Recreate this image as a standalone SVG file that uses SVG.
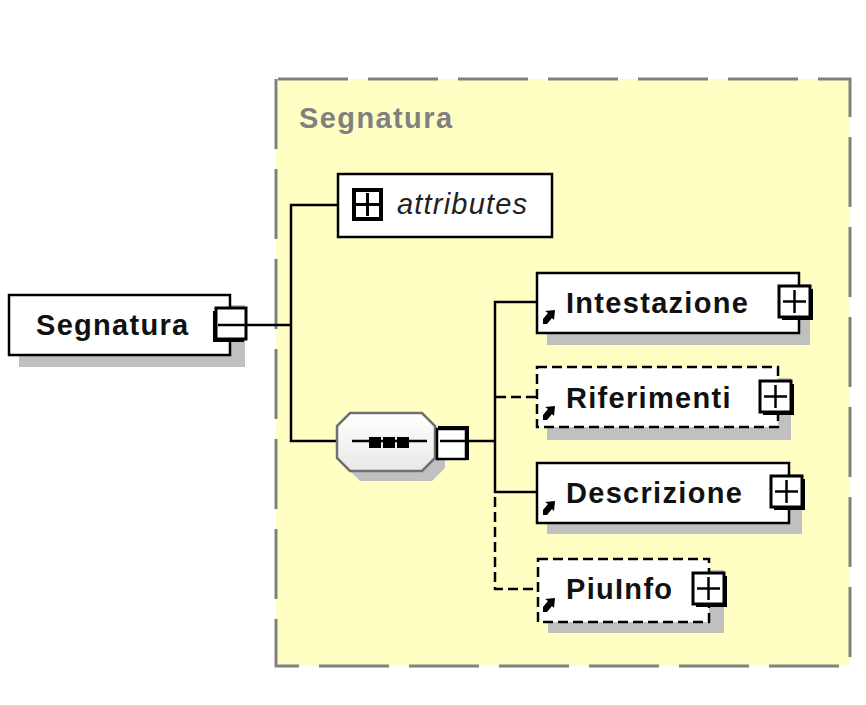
<svg xmlns="http://www.w3.org/2000/svg" width="866" height="705" viewBox="0 0 866 705">
<defs>
<style>
.box{fill:#fff;stroke:#000;stroke-width:2.5}
.dbox{fill:#fff;stroke:#000;stroke-width:2.5;stroke-dasharray:10 5}
.shadow{fill:#c0c0c0}
.lbl{font-family:"Liberation Sans",Arial,sans-serif;font-weight:bold;font-size:29px;fill:#111;letter-spacing:1.3px}
.ln{stroke:#000;stroke-width:2.5;fill:none}
.dln{stroke:#000;stroke-width:2.5;fill:none;stroke-dasharray:10 5}
</style>
<linearGradient id="seqg" x1="0" y1="0" x2="0" y2="1">
<stop offset="0" stop-color="#ffffff"/>
<stop offset="1" stop-color="#e8e8e8"/>
</linearGradient>
<g id="plus">
<rect x="3" y="3" width="31" height="31" fill="#000"/>
<rect x="0" y="0" width="31" height="31" fill="#fff" stroke="#000" stroke-width="3"/>
<line x1="15.5" y1="4" x2="15.5" y2="27" stroke="#000" stroke-width="2.5"/>
<line x1="4" y1="15.5" x2="27" y2="15.5" stroke="#000" stroke-width="2.5"/>
</g>
<g id="ref">
<polygon points="0,14 4,14 9,8 11,10 12,0 2,1 5,3 0,9" fill="#000"/>
</g>
</defs>

<g id="container">
<rect x="276" y="79" width="574" height="587" fill="#ffffc4" stroke="#808080" stroke-width="3" stroke-dasharray="70 20" stroke-dashoffset="-2"/>
<text x="299" y="128" font-family="'Liberation Sans',Arial,sans-serif" font-weight="bold" font-size="29" fill="#808080" letter-spacing="1.4">Segnatura</text>
</g>

<g id="connectors">
<line class="ln" x1="247" y1="325" x2="291" y2="325"/>
<line class="ln" x1="291" y1="204" x2="291" y2="442"/>
<line class="ln" x1="290" y1="205" x2="338" y2="205"/>
<line class="ln" x1="290" y1="441" x2="337" y2="441"/>
<line class="ln" x1="469" y1="441" x2="495" y2="441"/>
<line class="ln" x1="495" y1="301" x2="495" y2="493"/>
<line class="ln" x1="494" y1="302" x2="537" y2="302"/>
<line class="dln" x1="496" y1="397" x2="537" y2="397"/>
<line class="ln" x1="494" y1="492" x2="537" y2="492"/>
<polyline class="dln" points="495,497 495,589 537,589"/>
</g>

<g id="node-segnatura">
<rect class="shadow" x="19" y="305" width="226" height="62"/>
<rect class="box" x="9" y="295" width="221" height="60"/>
<text class="lbl" x="36" y="335" letter-spacing="1.5">Segnatura</text>
<rect x="213" y="311" width="31" height="31" fill="#000"/>
<rect x="216" y="308" width="30" height="31" fill="#fff" stroke="#000" stroke-width="3"/>
<line x1="218" y1="325" x2="247" y2="325" stroke="#000" stroke-width="2.5"/>
</g>

<g id="node-attributes">
<rect class="box" x="338" y="174" width="214" height="63"/>
<rect x="352" y="188" width="31" height="33" fill="#000"/>
<rect x="356" y="192" width="23" height="25" fill="#fff"/>
<line x1="367.5" y1="193" x2="367.5" y2="216" stroke="#000" stroke-width="3"/>
<line x1="356" y1="204.5" x2="379" y2="204.5" stroke="#000" stroke-width="3"/>
<text x="397" y="214" font-family="'Liberation Sans',Arial,sans-serif" font-style="italic" font-size="29" fill="#222" letter-spacing="1.2">attributes</text>
</g>

<g id="node-sequence">
<polygon class="shadow" points="360,423 432,423 445,436 445,468 432,481 360,481 347,468 347,436"/>
<polygon points="350,413 422,413 435,426 435,458 422,471 350,471 337,458 337,426" fill="url(#seqg)" stroke="#707070" stroke-width="2.5"/>
<line x1="352" y1="441" x2="427" y2="441" stroke="#000" stroke-width="2.5"/>
<rect x="369" y="437" width="12" height="11" fill="#000"/>
<rect x="383" y="437" width="12" height="11" fill="#000"/>
<rect x="397" y="437" width="12" height="11" fill="#000"/>
<rect x="438" y="426" width="31" height="34" fill="#000"/>
<rect x="437" y="429" width="29" height="30" fill="#fff" stroke="#000" stroke-width="2.5"/>
<line x1="440" y1="441" x2="469" y2="441" stroke="#000" stroke-width="2.5"/>
</g>

<g id="node-intestazione">
<rect class="shadow" x="547" y="284" width="263" height="61"/>
<rect class="box" x="537" y="273" width="262" height="60"/>
<use href="#ref" x="543" y="310"/>
<text class="lbl" x="566" y="313">Intestazione</text>
<use href="#plus" x="779" y="286"/>
</g>

<g id="node-riferimenti">
<rect class="shadow" x="547" y="378" width="244" height="62"/>
<rect class="dbox" x="537" y="367" width="241" height="60"/>
<use href="#ref" x="543" y="406"/>
<text class="lbl" x="566" y="408">Riferimenti</text>
<use href="#plus" x="760" y="381"/>
</g>

<g id="node-descrizione">
<rect class="shadow" x="547" y="474" width="255" height="60"/>
<rect class="box" x="537" y="463" width="252" height="60"/>
<use href="#ref" x="543" y="501"/>
<text class="lbl" x="566" y="503">Descrizione</text>
<use href="#plus" x="771" y="476"/>
</g>

<g id="node-piuinfo">
<rect class="shadow" x="548" y="570" width="176" height="63"/>
<rect class="dbox" x="538" y="559" width="171" height="63"/>
<use href="#ref" x="543" y="598"/>
<text class="lbl" x="566" y="599">PiuInfo</text>
<use href="#plus" x="693" y="573"/>
</g>
</svg>
